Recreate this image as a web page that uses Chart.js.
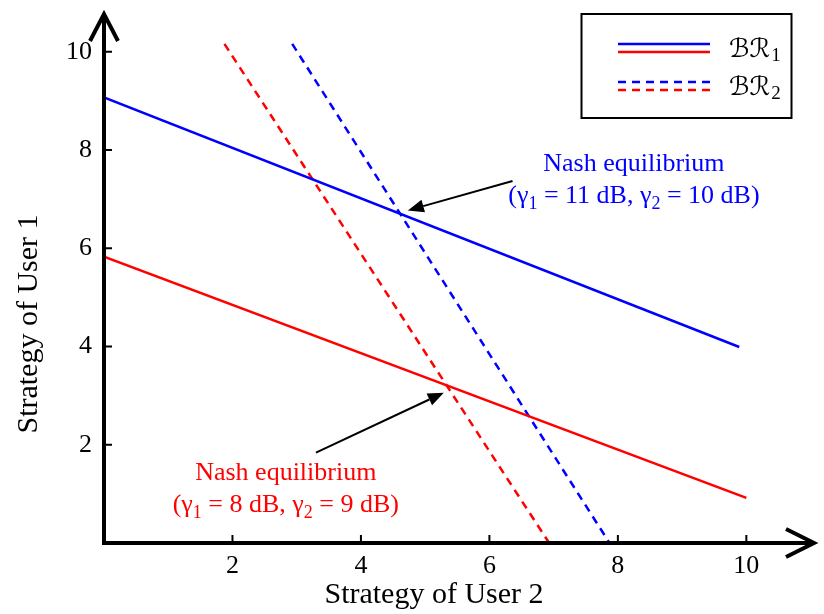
<!DOCTYPE html>
<html>
<head>
<meta charset="utf-8">
<script src="https://cdn.jsdelivr.net/npm/chart.js@4.4.1/dist/chart.umd.min.js"></script>
<style>
  html, body { margin: 0; padding: 0; background: #fff; }
  canvas { display: block; }
</style>
</head>
<body>
<canvas id="br-chart" width="824" height="614"></canvas>
<script>
// Best-response lines (x = strategy of user 2, y = strategy of user 1)
const br1BlueX = [0, 9.89]
const br1BlueY = [9.07, 3.99]
const br1RedX = [0, 10]
const br1RedY = [5.83, 0.92]
const br2BlueX = [2.93, 7.87]
const br2BlueY = [10.16, 0]
const br2RedX = [1.875, 6.93]
const br2RedY = [10.16, 0]

const xTicks = [2, 4, 6, 8, 10]
const yTicks = [2, 4, 6, 8, 10]
const xMax = 11.1
const yMax = 10.85

const legendSubs = ['1', '2']

// Nash equilibrium callouts, in data units
const nashGammas = [['11', '10'], ['8', '9']]
const nashColors = ['#0000ff', '#ff0000']
const nashTextAt = [[8.25, 7.58, 6.93], [2.83, 1.28, 0.63]]
const nashTail = [[6.36, 7.37], [3.30, 1.84]]
const nashTip = [[4.73, 6.77], [5.29, 3.06]]

const SERIF = '"Liberation Serif", "Times New Roman", serif'
const SCRIPT = '"DejaVu Serif", "DejaVu Sans", serif'

const toPts = (xs, ys) => xs.map((x, i) => ({ x, y: ys[i] }))

function line(label, xs, ys, color, dashed) {
  return {
    label,
    data: toPts(xs, ys),
    borderColor: color,
    backgroundColor: color,
    borderWidth: 2.5,
    borderDash: dashed ? [8, 6] : [],
    pointRadius: 0,
    showLine: true,
    fill: false,
    tension: 0,
  }
}

function drawRich(ctx, parts, cx, y, size) {
  const big = size + 'px ' + SERIF
  const small = Math.round(size * 0.7) + 'px ' + SERIF
  let w = 0
  parts.forEach(([t, sub]) => { ctx.font = sub ? small : big; w += ctx.measureText(t).width })
  let x = cx - w / 2
  ctx.textAlign = 'left'
  parts.forEach(([t, sub]) => {
    ctx.font = sub ? small : big
    ctx.fillText(t, x, sub ? y + 6 : y)
    x += ctx.measureText(t).width
  })
}

const decorPlugin = {
  id: 'decor',
  afterDatasetsDraw(chart) {
    const { ctx, chartArea: a, scales } = chart
    const sx = v => scales.x.getPixelForValue(v)
    const sy = v => scales.y.getPixelForValue(v)
    const x0 = sx(0), y0 = sy(0)
    ctx.save()

    // axes with open arrowheads
    ctx.strokeStyle = '#000'
    ctx.lineWidth = 4
    ctx.beginPath()
    ctx.moveTo(x0, a.top + 4); ctx.lineTo(x0, y0 + 2)
    ctx.moveTo(x0 - 2, y0); ctx.lineTo(a.right - 3, y0)
    ctx.stroke()
    ctx.lineJoin = 'miter'
    ctx.beginPath()
    ctx.moveTo(x0 - 14, a.top + 31); ctx.lineTo(x0, a.top + 4); ctx.lineTo(x0 + 14, a.top + 31)
    ctx.moveTo(a.right - 31, y0 - 14); ctx.lineTo(a.right - 3, y0); ctx.lineTo(a.right - 31, y0 + 14)
    ctx.stroke()

    // inward tick marks
    ctx.lineWidth = 2
    ctx.beginPath()
    yTicks.forEach(v => { ctx.moveTo(x0, sy(v)); ctx.lineTo(x0 + 8, sy(v)) })
    xTicks.forEach(v => { ctx.moveTo(sx(v), y0); ctx.lineTo(sx(v), y0 - 8) })
    ctx.stroke()

    // axis titles
    ctx.fillStyle = '#000'
    ctx.font = '30px ' + SERIF
    ctx.textAlign = 'center'
    ctx.textBaseline = 'alphabetic'
    ctx.fillText('Strategy of User 2', 434, 603)
    ctx.save()
    ctx.translate(37, 324)
    ctx.rotate(-Math.PI / 2)
    ctx.fillText('Strategy of User 1', 0, 0)
    ctx.restore()

    // legend box, grouped blue/red pairs
    const ds = chart.data.datasets
    ctx.lineWidth = 2
    ctx.strokeStyle = '#000'
    ctx.strokeRect(581.5, 14, 210, 104)
    const rows = [[ds[0], ds[1], 44], [ds[2], ds[3], 82]]
    rows.forEach(([d1, d2, yy], i) => {
      [d1, d2].forEach((d, j) => {
        ctx.strokeStyle = d.borderColor
        ctx.lineWidth = 2.5
        ctx.setLineDash(d.borderDash)
        ctx.beginPath()
        ctx.moveTo(618, yy + j * 8)
        ctx.lineTo(710, yy + j * 8)
        ctx.stroke()
      })
      ctx.setLineDash([])
      ctx.fillStyle = '#000'
      ctx.textAlign = 'left'
      ctx.font = '26px ' + SCRIPT
      ctx.fillText('\u212C\u211B', 729, yy + 13)
      const w = ctx.measureText('\u212C\u211B').width
      ctx.font = '19px ' + SERIF
      ctx.fillText(legendSubs[i], 729 + w + 1, yy + 17)
    })

    // Nash equilibrium callouts
    nashGammas.forEach(([g1, g2], i) => {
      const col = nashColors[i]
      const [tx, ty1, ty2] = nashTextAt[i]
      ctx.fillStyle = col
      ctx.font = '26px ' + SERIF
      ctx.textAlign = 'center'
      ctx.fillText('Nash equilibrium', sx(tx), sy(ty1))
      drawRich(ctx, [['(\u03B3', 0], ['1', 1], [' = ' + g1 + ' dB, \u03B3', 0], ['2', 1], [' = ' + g2 + ' dB)', 0]], sx(tx), sy(ty2), 26)

      const ax = sx(nashTail[i][0]), ay = sy(nashTail[i][1])
      const bx = sx(nashTip[i][0]), by = sy(nashTip[i][1])
      const ang = Math.atan2(by - ay, bx - ax)
      const hl = 16, hw = 6.5
      const cx = bx - hl * Math.cos(ang), cy = by - hl * Math.sin(ang)
      ctx.strokeStyle = '#000'
      ctx.fillStyle = '#000'
      ctx.lineWidth = 2
      ctx.beginPath()
      ctx.moveTo(ax, ay); ctx.lineTo(cx, cy)
      ctx.stroke()
      ctx.beginPath()
      ctx.moveTo(bx, by)
      ctx.lineTo(cx + hw * Math.sin(ang), cy - hw * Math.cos(ang))
      ctx.lineTo(cx - hw * Math.sin(ang), cy + hw * Math.cos(ang))
      ctx.closePath()
      ctx.fill()
    })

    ctx.restore()
  }
}

const tickFont = { family: SERIF, size: 26 }

new Chart(document.getElementById('br-chart'), {
  type: 'scatter',
  data: {
    datasets: [
      line('BR1 (11 dB)', br1BlueX, br1BlueY, '#0000ff', false),
      line('BR1 (8 dB)', br1RedX, br1RedY, '#ff0000', false),
      line('BR2 (10 dB)', br2BlueX, br2BlueY, '#0000ff', true),
      line('BR2 (9 dB)', br2RedX, br2RedY, '#ff0000', true),
    ]
  },
  options: {
    responsive: false,
    animation: false,
    layout: { padding: { top: 10, right: 7, bottom: 0, left: 0 } },
    plugins: { legend: { display: false }, tooltip: { enabled: false } },
    scales: {
      x: {
        type: 'linear', min: 0, max: xMax,
        afterBuildTicks: s => { s.ticks = xTicks.map(v => ({ value: v })) },
        afterFit: s => { s.height = 71; s.paddingLeft = 0; s.paddingRight = 0 },
        grid: { display: false, drawTicks: false },
        border: { display: false },
        ticks: { color: '#000', font: tickFont, padding: 8, maxRotation: 0, autoSkip: false },
      },
      y: {
        type: 'linear', min: 0, max: yMax,
        afterBuildTicks: s => { s.ticks = yTicks.map(v => ({ value: v })) },
        afterFit: s => { s.width = 104; s.paddingTop = 0; s.paddingBottom = 0 },
        grid: { display: false, drawTicks: false },
        border: { display: false },
        ticks: { color: '#000', font: tickFont, padding: 12, autoSkip: false },
      }
    }
  },
  plugins: [decorPlugin]
})
</script>
</body>
</html>
